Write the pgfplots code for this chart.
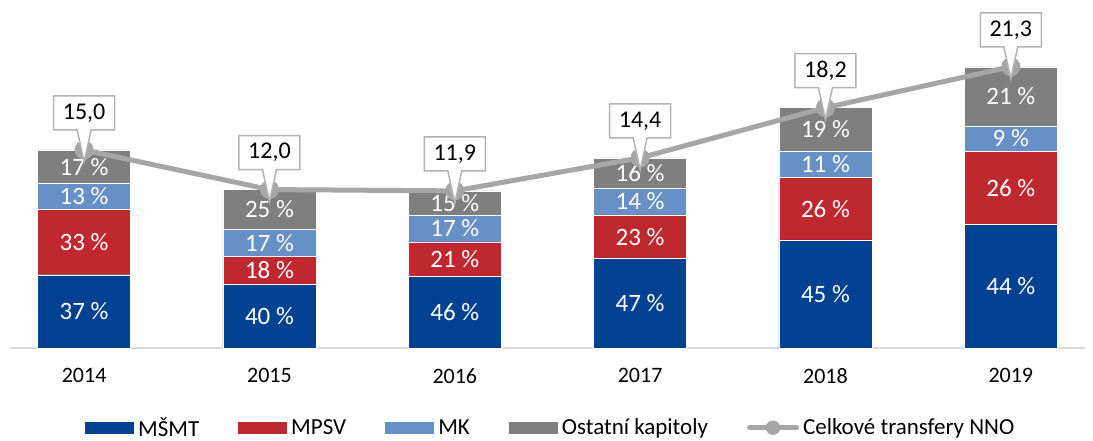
\documentclass[border=0pt]{standalone}
\usepackage{fontspec}
\setmainfont{Carlito}
\usepackage{pgfplots}
\pgfplotsset{compat=1.18}
\usetikzlibrary{shapes.callouts}

\definecolor{msmt}{HTML}{004291}
\definecolor{mpsv}{HTML}{C0282F}
\definecolor{mk}{HTML}{6690C6}
\definecolor{ostatni}{HTML}{7F7F7F}
\definecolor{celk}{HTML}{A6A6A6}
\definecolor{baseln}{HTML}{D9D9D9}

\newcommand{\fs}{\fontsize{22pt}{26pt}\selectfont}
\newcommand{\fsleg}{\fontsize{23pt}{26pt}\selectfont}
\newcommand{\fspct}{\fontsize{25pt}{29pt}\selectfont}
\newcommand{\fsbox}{\fontsize{24pt}{28pt}\selectfont}

% shared frame for the stacked axes (1pt = 1px of the reference)
\pgfplotsset{
  frame/.style={
    width=1075pt, height=338pt, scale only axis,
    xmin=-0.4, xmax=5.4, ymin=0, ymax=25.6,
    clip=false,
  },
}

\begin{document}
\begin{tikzpicture}
\useasboundingbox (-10pt,-93pt) rectangle (1083pt,348pt);

% bars, axis line, ticks and legend
\begin{axis}[frame,
  ybar stacked, bar width=93pt,
  axis x line=bottom, axis y line=none,
  x axis line style={baseln, line width=1.5pt, -},
  xtick={0,1,2,3,4,5},
  xticklabels={2014,2015,2016,2017,2018,2019},
  major tick length=0pt,
  xticklabel style={font=\fs, yshift=-17pt},
  legend image code/.code={\fill[#1, draw=none] (0pt,-6pt) rectangle (49pt,6pt);},
  legend cell align=left,
  legend style={at={(0.503,-0.236)}, anchor=center, draw=none, fill=none,
    legend columns=5, font=\fsleg,
    /tikz/every odd column/.append style={column sep=2pt},
    /tikz/every even column/.append style={column sep=37pt}},
]
\addplot[fill=msmt, draw=white, line width=0.4pt]
  coordinates {(0,5.55) (1,4.80) (2,5.45) (3,6.77) (4,8.19) (5,9.37)};
\addlegendentry{MŠMT}
\addplot[fill=mpsv, draw=white, line width=0.4pt]
  coordinates {(0,4.95) (1,2.16) (2,2.58) (3,3.31) (4,4.73) (5,5.54)};
\addlegendentry{MPSV}
\addplot[fill=mk, draw=white, line width=0.4pt]
  coordinates {(0,1.95) (1,2.04) (2,2.05) (3,2.02) (4,2.00) (5,1.92)};
\addlegendentry{MK}
\addplot[fill=ostatni, draw=white, line width=0.4pt]
  coordinates {(0,2.55) (1,3.00) (2,1.82) (3,2.30) (4,3.28) (5,4.47)};
\addlegendentry{Ostatní kapitoly}
\addlegendimage{legend image code/.code={
  \draw[celk, line width=5pt, line cap=round] (2.5pt,0pt) -- (49.5pt,0pt);
  \fill[celk] (26pt,0pt) circle (7pt);}}
\addlegendentry{Celkové transfery NNO}
\end{axis}

% share labels in the middle of each segment
\begin{axis}[frame, hide axis]
\addplot[draw=none, mark=none, nodes near coords, point meta=explicit symbolic,
  every node near coord/.style={anchor=center, text=white, font=\fspct}]
  coordinates {
  (0,2.775) [37~\%] (0,8.025) [33~\%] (0,11.475) [13~\%] (0,13.725) [17~\%]
  (1,2.40) [40~\%] (1,5.88) [18~\%] (1,7.98) [17~\%] (1,10.50) [25~\%]
  (2,2.725) [46~\%] (2,6.74) [21~\%] (2,9.055) [17~\%] (2,10.99) [15~\%]
  (3,3.385) [47~\%] (3,8.425) [23~\%] (3,11.09) [14~\%] (3,13.25) [16~\%]
  (4,4.095) [45~\%] (4,10.555) [26~\%] (4,13.92) [11~\%] (4,16.56) [19~\%]
  (5,4.685) [44~\%] (5,12.14) [26~\%] (5,15.87) [9~\%] (5,19.065) [21~\%]
  };
\end{axis}

% total line with callouts
\begin{axis}[frame, hide axis]
\addplot[celk, line width=5pt, mark=*, mark size=7pt,
  mark options={fill=celk, draw=none},
  nodes near coords, point meta=explicit symbolic,
  every node near coord/.style={rectangle callout, anchor=center, yshift=37pt,
    callout relative pointer={(0pt,-32pt)}, callout pointer width=14pt,
    draw=celk!85, fill=white, line width=1.5pt, text=black,
    minimum width=61pt, minimum height=34pt, inner sep=0pt, font=\fsbox}]
  coordinates {(0,15.0) [{15,0}] (1,12.0) [{12,0}] (2,11.9) [{11,9}]
               (3,14.4) [{14,4}] (4,18.2) [{18,2}] (5,21.3) [{21,3}]};
\end{axis}
\end{tikzpicture}
\end{document}
